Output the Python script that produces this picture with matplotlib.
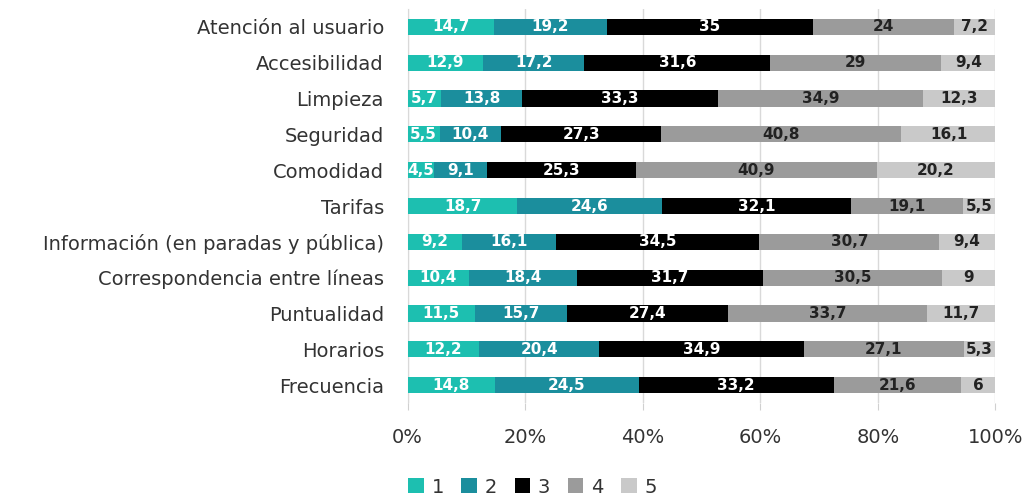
import matplotlib
matplotlib.use("Agg")
import matplotlib.pyplot as plt
import numpy as np

categories = ["Atención al usuario", "Accesibilidad", "Limpieza", "Seguridad", "Comodidad",
              "Tarifas", "Información (en paradas y pública)", "Correspondencia entre líneas",
              "Puntualidad", "Horarios", "Frecuencia"]
s1 = [14.7, 12.9, 5.7, 5.5, 4.5, 18.7, 9.2, 10.4, 11.5, 12.2, 14.8]
s2 = [19.2, 17.2, 13.8, 10.4, 9.1, 24.6, 16.1, 18.4, 15.7, 20.4, 24.5]
s3 = [35, 31.6, 33.3, 27.3, 25.3, 32.1, 34.5, 31.7, 27.4, 34.9, 33.2]
s4 = [24, 29, 34.9, 40.8, 40.9, 19.1, 30.7, 30.5, 33.7, 27.1, 21.6]
s5 = [7.2, 9.4, 12.3, 16.1, 20.2, 5.5, 9.4, 9, 11.7, 5.3, 6]
series_names = ["1", "2", "3", "4", "5"]
xticks = [0, 20, 40, 60, 80, 100]

colors = ["#1DBFB0", "#1B8E9D", "#000000", "#9B9B9B", "#C9C9C9"]
text_colors = ["white", "white", "white", "#222222", "#222222"]

plt.rcParams['font.family'] = ['DejaVu Sans']

fig = plt.figure(figsize=(10.24, 4.97), dpi=100)
ax = fig.add_axes([0.398, 0.189, 0.574, 0.793])

data = [s1, s2, s3, s4, s5]
y = np.arange(len(categories))
left = np.zeros(len(categories))
for vals, name, c, tc in zip(data, series_names, colors, text_colors):
    vals = np.array(vals, dtype=float)
    ax.barh(y, vals, left=left, height=0.45, color=c, label=name, zorder=3)
    for yi, l, v in zip(y, left, vals):
        ax.text(l + v / 2, yi, f"{v:g}".replace(".", ","), ha="center", va="center",
                color=tc, fontsize=11, fontweight="bold", zorder=4)
    left += vals

ax.set_xlim(0, 100)
ax.set_ylim(len(categories) - 0.5, -0.5)
ax.set_yticks(y)
ax.set_yticklabels(categories, fontsize=14, color="#333333")
ax.set_xticks(xticks)
ax.set_xticklabels([f"{t}%" for t in xticks], fontsize=14, color="#333333")
ax.tick_params(axis="y", length=0, pad=17)
ax.tick_params(axis="x", length=5, color="#d0d0d0", pad=13)
ax.grid(axis="x", color="#d9d9d9", linewidth=1, zorder=0)
for s in ["top", "right", "bottom"]:
    ax.spines[s].set_visible(False)
ax.spines["left"].set_color("#d9d9d9")

handles, labels = ax.get_legend_handles_labels()
fig.legend(handles, labels, loc="center", bbox_to_anchor=(0.52, 0.02), ncol=5,
           frameon=False, fontsize=14, handlelength=0.8, handleheight=0.8,
           handletextpad=0.4, columnspacing=0.9, labelcolor="#333333")

fig.savefig("out.png", dpi=100)
